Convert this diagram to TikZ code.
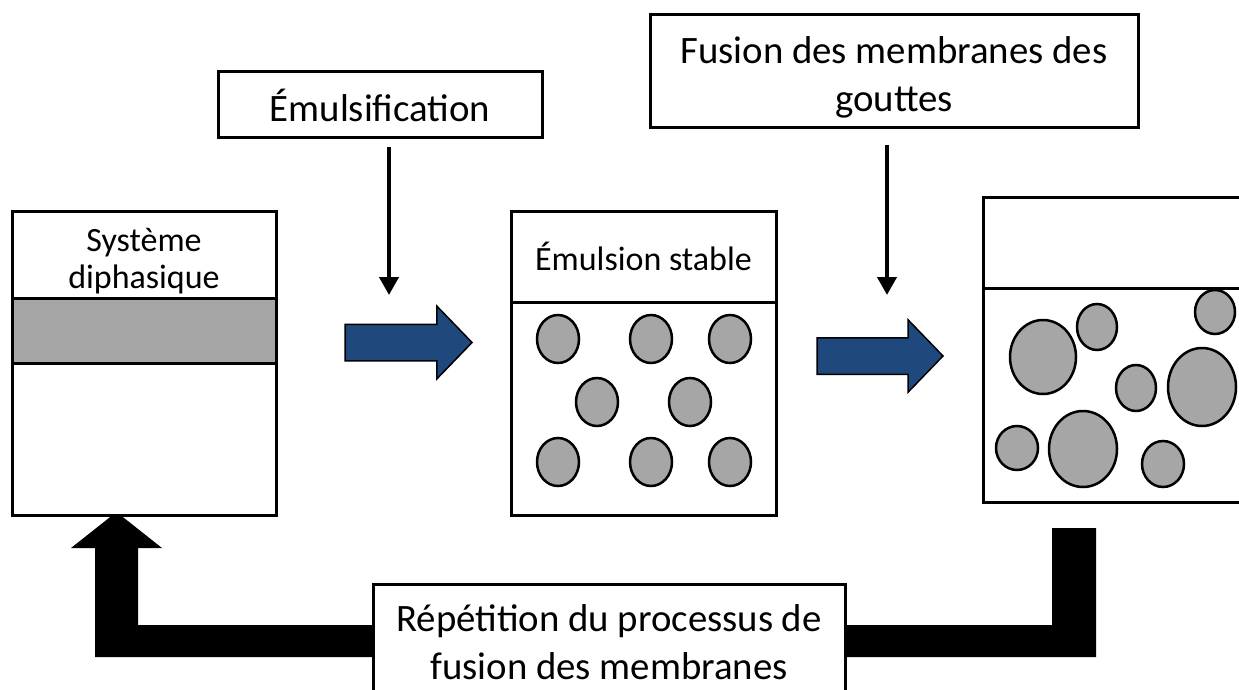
\documentclass[tikz,border=0pt]{standalone}
\usepackage{fontspec}
\setmainfont{Carlito}
\usetikzlibrary{arrows.meta,shapes.arrows}

\definecolor{bleufleche}{RGB}{31,73,125}
\definecolor{grisgoutte}{RGB}{166,166,166}

\tikzset{
  boite/.style={draw,line width=3pt,fill=white,inner sep=0pt,outer sep=0pt,align=center},
  trait/.style={line width=3pt},
  goutte/.style={draw,line width=2.5pt,fill=grisgoutte},
  etape/.style={line width=4pt,-{Triangle[width=19pt,length=18pt]}},
  passage/.style={draw,line width=1.5pt,fill=bleufleche,single arrow,anchor=tail,outer sep=0pt,
    single arrow head extend=18pt,single arrow tip angle=92,inner xsep=0pt,inner ysep=17.5pt,
    minimum height=127pt},
  grand/.style={font=\fontsize{38.8}{48}\selectfont},
  petit/.style={font=\fontsize{34}{37}\selectfont},
}

\begin{document}
\begin{tikzpicture}[x=1pt,y=-1pt]
   \useasboundingbox (0,0) rectangle (1239,690);
   \clip (0,0) rectangle (1239,690);

   % boucle de retour (dessinee sous les boites)
   \fill (1052,528) -- (1096,528) -- (1096,657) -- (95,657) -- (95,548) -- (71,548)
         -- (116.5,512) -- (162,548) -- (138,548) -- (138,625) -- (1052,625) -- cycle;

   % systeme diphasique
   \node[boite,minimum width=264pt,minimum height=304pt] (diph) at (144,363) {};
   \fill[grisgoutte] (diph.west |- 0,298) rectangle (diph.east |- 0,363);
   \draw[trait] (diph.west |- 0,298) -- (diph.east |- 0,298);
   \draw[trait] (diph.west |- 0,363) -- (diph.east |- 0,363);
   \draw[trait] (diph.north west) rectangle (diph.south east);
   \node[petit,align=center] (diphtxt) at (144,261) {Système\\diphasique};

   % emulsion stable
   \node[boite,minimum width=265pt,minimum height=304pt] (stable) at (643.5,363) {};
   \draw[trait] (stable.west |- 0,302) -- (stable.east |- 0,302);
   \node[petit] (stabletxt) at (643.5,256) {Émulsion stable};
   \foreach \x/\y in {558/339,651/339,730/339,597/402,690/402,558/462,651/462,730/462}
      \draw[goutte] (\x,\y) ellipse (21pt and 24pt);

   % gouttes fusionnees
   \node[boite,minimum width=280pt,minimum height=305pt] (fusionnee) at (1123,349.5) {};
   \draw[trait] (fusionnee.west |- 0,288) -- (fusionnee.east |- 0,288);
   \foreach \x/\y/\a/\b in {1043/357/33/37,1097/327/20/23,1215/312/20/22,1136/388/20/23,
                            1202/387/34/39,1017/448/21/22,1083/449/34/38,1163/464/21/23}
      \draw[goutte] (\x,\y) ellipse (\a pt and \b pt);

   % etapes du haut
   \node[boite,grand,minimum width=324pt,minimum height=66pt] (emul) at (380,105) {Émulsification};
   \node[boite,minimum width=488pt,minimum height=113pt] (fusion) at (894,71.5) {};
   \node[grand,align=center] (fusiontxt) at (894,77) {Fusion des membranes des\\gouttes};
   \coordinate (pointe1) at (389,295);
   \coordinate (pointe2) at (887,295);
   \draw[etape] (emul.south -| pointe1) ++(0,9) -- (pointe1);
   \draw[etape] (fusion.south -| pointe2) ++(0,17) -- (pointe2);

   % fleches bleues
   \node[passage] (f1) at (345,342.5) {};
   \node[passage,minimum height=126pt] (f2) at (817,356) {};

   % repetition
   \node[boite,minimum width=472pt,minimum height=136pt] (repet) at (609,652) {};
   \node[grand,align=center] (repettxt) at (609,642) {Répétition du processus de\\fusion des membranes};
\end{tikzpicture}
\end{document}
